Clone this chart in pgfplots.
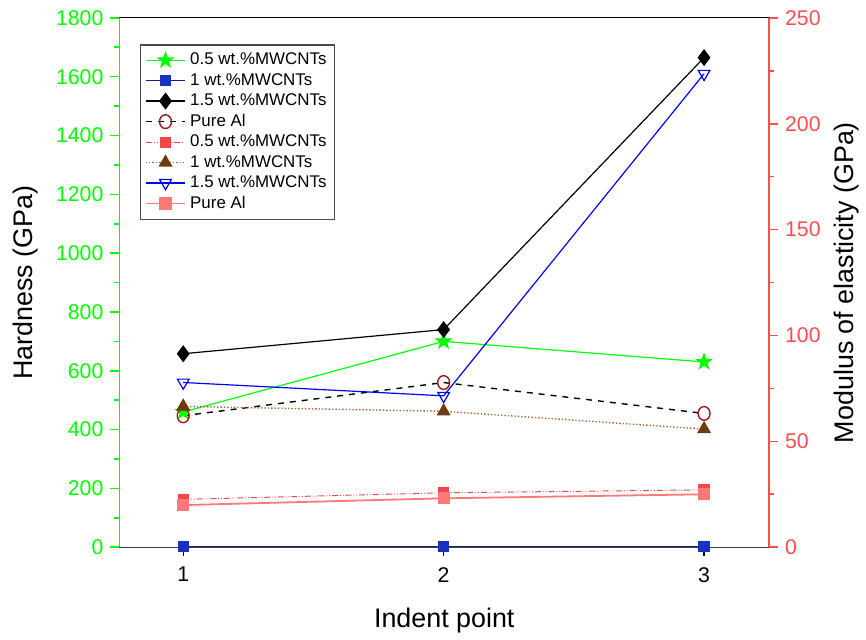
\documentclass[border=0pt]{standalone}
\usepackage{fontspec}
\setmainfont{Liberation Sans}
\usepackage{pgfplots}
\pgfplotsset{compat=1.18}
\definecolor{hardgreen}{RGB}{0,255,0}
\definecolor{modred}{RGB}{255,77,77}
\definecolor{navyblue}{RGB}{25,50,190}
\definecolor{darkred}{RGB}{155,27,27}
\definecolor{sqred}{RGB}{240,72,72}
\definecolor{brownmk}{RGB}{110,58,15}
\definecolor{brownln}{RGB}{176,96,48}
\definecolor{pinkred}{RGB}{255,120,120}
% filled five-point star
\pgfdeclareplotmark{fstar}{%
  \pgfpathmoveto{\pgfpointpolar{90}{\pgfplotmarksize}}%
  \pgfpathlineto{\pgfpointpolar{126}{0.4\pgfplotmarksize}}%
  \pgfpathlineto{\pgfpointpolar{162}{\pgfplotmarksize}}%
  \pgfpathlineto{\pgfpointpolar{198}{0.4\pgfplotmarksize}}%
  \pgfpathlineto{\pgfpointpolar{234}{\pgfplotmarksize}}%
  \pgfpathlineto{\pgfpointpolar{270}{0.4\pgfplotmarksize}}%
  \pgfpathlineto{\pgfpointpolar{306}{\pgfplotmarksize}}%
  \pgfpathlineto{\pgfpointpolar{342}{0.4\pgfplotmarksize}}%
  \pgfpathlineto{\pgfpointpolar{18}{\pgfplotmarksize}}%
  \pgfpathlineto{\pgfpointpolar{54}{0.4\pgfplotmarksize}}%
  \pgfpathclose\pgfusepathqfillstroke}
\pgfplotsset{
  every axis/.append style={
    /pgf/number format/assume math mode=true,
    /pgf/number format/set thousands separator={},
    tick label style={font=\fontsize{10.7}{12.5}\selectfont},
    label style={font=\fontsize{13.5}{16}\selectfont},
    major tick length=4.5pt, minor tick length=2.5pt,
    tick align=outside,
  },
  legend image code/.code={\draw[mark repeat=2,mark phase=2,#1] plot coordinates {(0cm,0cm)(0.35cm,0cm)(0.7cm,0cm)};},
}
\begin{document}
\begin{tikzpicture}
% hardness, left axis
\begin{axis}[
  width=326.5pt, height=266pt, scale only axis,
  xmin=0.755, xmax=3.25, ymin=0, ymax=1800,
  xtick={1,2,3}, ytick distance=200, minor y tick num=1,
  axis y line*=left, axis x line*=bottom,
  y axis line style={hardgreen, line width=0.8pt},
  ytick style={hardgreen, line width=0.8pt},
  yticklabel style={text=hardgreen},
  x axis line style={black!75, line width=0.6pt},
  xtick style={black, line width=0.6pt},
  xticklabel style={yshift=-2pt},
  xlabel={Indent point}, ylabel={Hardness (GPa)},
  xlabel style={yshift=-6pt}, ylabel style={yshift=2pt},
  clip=false,
]
% page frame with the reference's margins
\path (rel axis cs:-0.1838,-0.1673) rectangle (rel axis cs:1.1424,1.0338);
\addplot[hardgreen, line width=0.6pt, mark=fstar, mark options={solid, fill=hardgreen, mark size=3.8pt}] coordinates {(1,460) (2,700) (3,630)};
\addplot[navyblue!70!black, line width=0.8pt, mark=square*, mark options={solid, navyblue, mark size=2.4pt}] coordinates {(1,3) (2,3) (3,3)};
\addplot[black, line width=0.6pt, mark=diamond*, mark options={solid, fill=black, mark size=3.8pt}] coordinates {(1,658) (2,740) (3,1665)};
\addplot[black, dashed, line width=0.7pt, mark=o, mark options={solid, darkred, mark size=3pt, yscale=1.15}] coordinates {(1,447) (2,560) (3,455)};
\end{axis}
% modulus, right axis
\begin{axis}[
  width=326.5pt, height=266pt, scale only axis,
  xmin=0.755, xmax=3.25, ymin=0, ymax=250,
  ytick distance=50, minor y tick num=1,
  axis y line*=right, axis x line*=top, xtick=\empty,
  y axis line style={modred, line width=0.8pt},
  ytick style={modred, line width=0.8pt},
  yticklabel style={text=modred},
  x axis line style={black, line width=0.6pt},
  ylabel={Modulus of elasticity (GPa)},
  legend cell align=left,
  legend style={at={(rel axis cs:0.032,0.95)}, anchor=north west,
    font=\fontsize{8.5}{10}\selectfont, draw=black!70, line width=0.6pt,
    row sep=-1.2pt, inner sep=2pt},
]
\addlegendimage{hardgreen, line width=0.6pt, mark=fstar, mark options={solid, fill=hardgreen, mark size=3.8pt}}
\addlegendentry{0.5 wt.\%MWCNTs}
\addlegendimage{navyblue!70!black, line width=0.8pt, mark=square*, mark options={solid, navyblue, mark size=2.4pt}}
\addlegendentry{1 wt.\%MWCNTs}
\addlegendimage{black, line width=0.6pt, mark=diamond*, mark options={solid, fill=black, mark size=3.8pt}}
\addlegendentry{1.5 wt.\%MWCNTs}
\addlegendimage{black, dashed, line width=0.7pt, mark=o, mark options={solid, darkred, mark size=3pt, yscale=1.15}}
\addlegendentry{Pure Al}
\addplot[sqred, densely dash dot dot, line width=0.5pt, mark=square*, mark options={solid, sqred, mark size=2.6pt}] coordinates {(1,22.6) (2,25.7) (3,27.1)};
\addlegendentry{0.5 wt.\%MWCNTs}
\addplot[brownln, densely dotted, line width=0.7pt, mark=triangle*, mark options={solid, brownmk, fill=brownmk, mark size=3.4pt}] coordinates {(1,66.5) (2,64.2) (3,55.8)};
\addlegendentry{1 wt.\%MWCNTs}
\addplot[blue, line width=0.6pt, mark=triangle, mark options={solid, blue, mark size=3.4pt, rotate=180}] coordinates {(1,77.8) (2,71.5) (3,223.6)};
\addlegendentry{1.5 wt.\%MWCNTs}
\addplot[pinkred, line width=0.9pt, mark=square*, mark options={solid, pinkred, mark size=2.6pt}] coordinates {(1,19.9) (2,23.1) (3,25)};
\addlegendentry{Pure Al}
\end{axis}
\end{tikzpicture}
\end{document}
